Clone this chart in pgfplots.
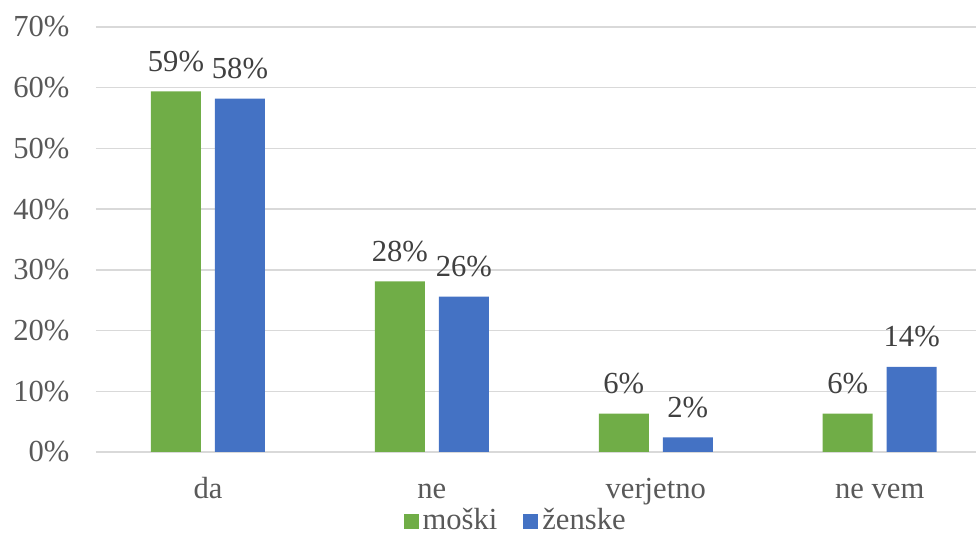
\documentclass[border=0pt]{standalone}
\usepackage{fontspec}
\setmainfont{Liberation Serif}
\usepackage{pgfplots}
\pgfplotsset{compat=1.18}
\definecolor{moski}{HTML}{70AD47}
\definecolor{zenske}{HTML}{4472C4}
\definecolor{gridc}{HTML}{D9D9D9}
\definecolor{txt}{HTML}{595959}
\definecolor{lbl}{HTML}{404040}

\begin{document}
\fontsize{15.3}{18}\selectfont
\begin{tikzpicture}
\useasboundingbox (-48pt,-41pt) rectangle (440pt,226pt);
\begin{axis}[
  scale only axis,
  width=440pt, height=212.5pt,
  ybar, bar width=25pt, ybar=7pt,
  xmin=-0.5, xmax=3.43,
  ymin=0, ymax=70,
  xtick=data,
  xticklabels={da, ne, verjetno, ne vem},
  ytick={0,10,...,70},
  yticklabel={\pgfmathprintnumber{\tick}\%},
  /pgf/number format/assume math mode=true,
  tick label style={font=\fontsize{15.3}{18}\selectfont, text=txt},
  yticklabel style={xshift=-8pt},
  xticklabel style={yshift=-7pt, text height=11pt, text depth=3pt},
  major tick length=0pt,
  ymajorgrids,
  grid style={gridc, line width=0.75pt},
  axis line style={draw=none},
  axis x line*=bottom,
  nodes near coords={\pgfmathprintnumber[fixed,precision=0]{\pgfplotspointmeta}\%},
  nodes near coords style={font=\fontsize{15.3}{18}\selectfont, text=lbl, yshift=4.5pt},
  legend style={at={(0.478,-0.163)}, anchor=center, draw=none, fill=none,
    legend columns=2, font=\fontsize{15.3}{18}\selectfont, text=txt,
    /tikz/every even column/.append style={column sep=11pt}},
  legend image code/.code={\fill[#1] (0pt,-3.75pt) rectangle (7.5pt,3.75pt);},
  clip=false,
]
\addplot[fill=moski, draw=none] coordinates {(0,59.4) (1,28.1) (2,6.3) (3,6.3)};
\addlegendentry{moški}
\addplot[fill=zenske, draw=none] coordinates {(0,58.2) (1,25.6) (2,2.4) (3,14.0)};
\addlegendentry{ženske}
\end{axis}
\end{tikzpicture}
\end{document}
